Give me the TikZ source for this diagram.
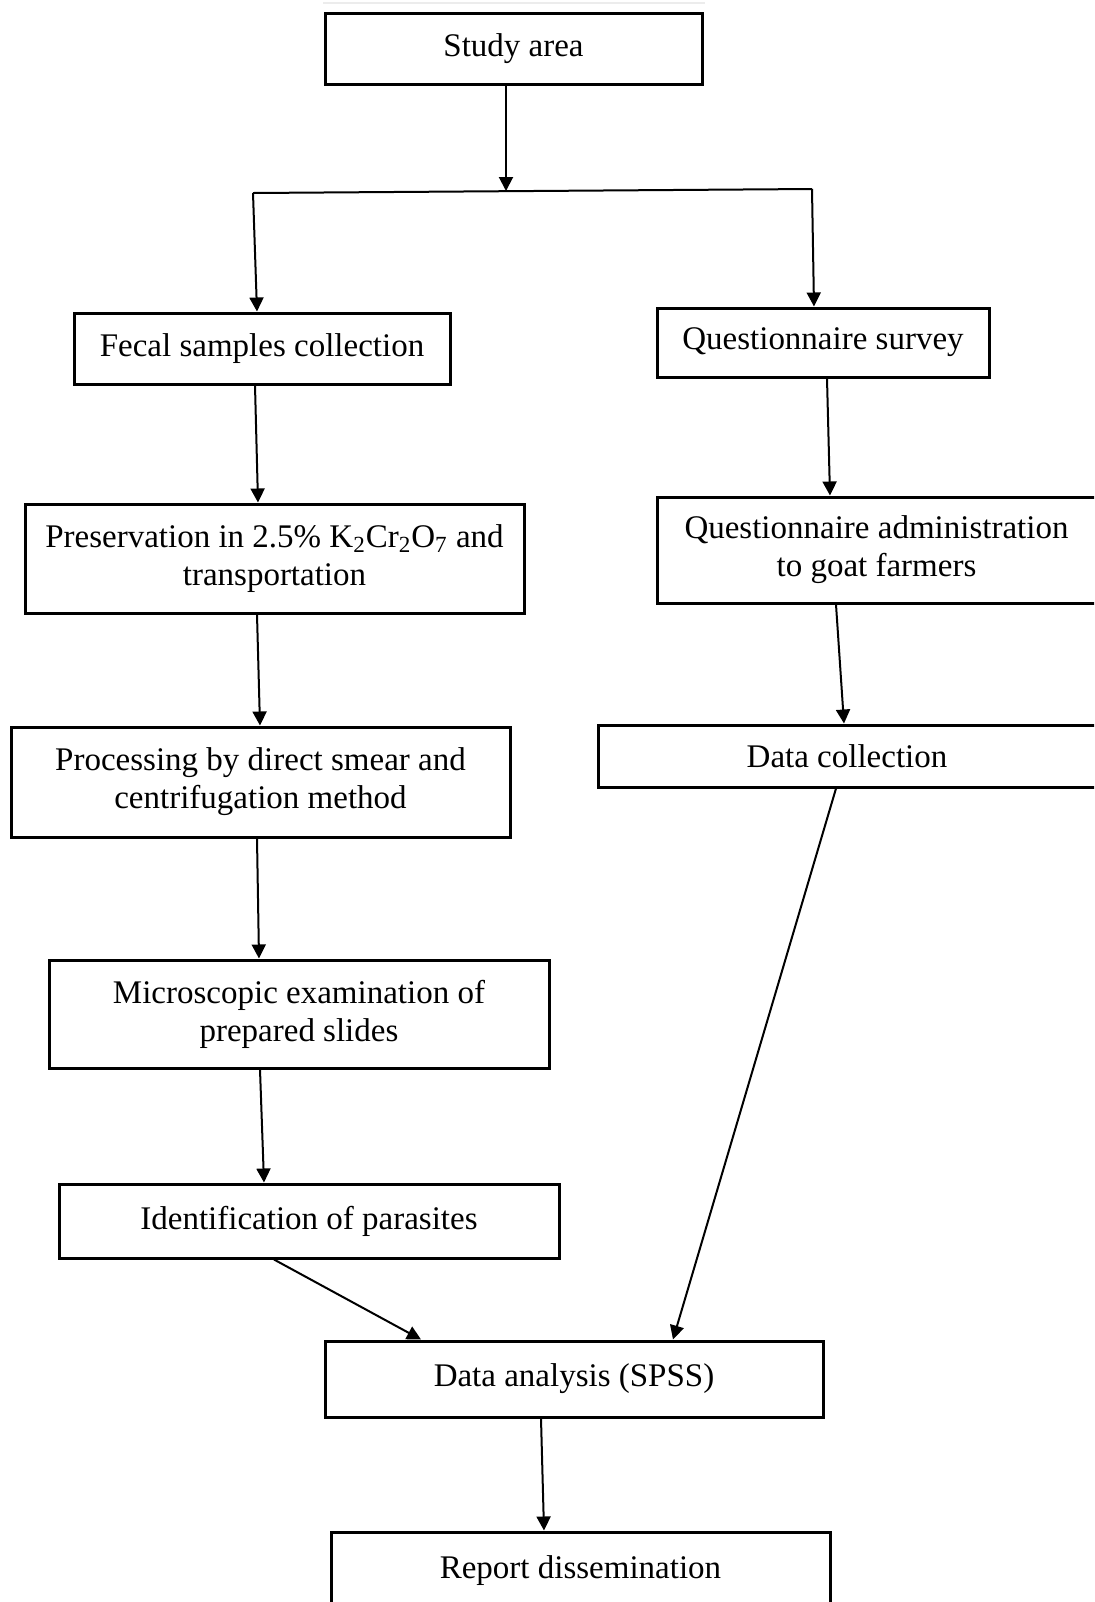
\documentclass[tikz,border=0pt]{standalone}
\usepackage{fontspec}
\setmainfont{Liberation Serif}
\usetikzlibrary{arrows.meta}
\tikzset{
  box/.style={draw=black, line width=1.5pt, fill=white, align=center, inner sep=0pt,
    font=\fontsize{16.5pt}{19pt}\selectfont},
  arr/.style={draw=black, line width=1pt, -{Triangle[length=7pt,width=7pt]}},
  ln/.style={draw=black, line width=1pt}
}
\begin{document}
\begin{tikzpicture}[x=0.5pt,y=-0.5pt]
\useasboundingbox (0,0) rectangle (1094,1602);
\clip (0,0) rectangle (1094,1602);
\fill[white] (0,0) rectangle (1094,1602);
\draw[gray!15, line width=1pt] (323,3) -- (705,3);

\node[box, minimum width=188.5pt, minimum height=35.5pt] (study) at (513.5,48.5) {Study area};
\node[box, minimum width=188pt, minimum height=35.5pt] (fecal) at (262,348.5) {Fecal samples collection};
\node[box, minimum width=166pt, minimum height=34.5pt] (qs) at (823,342.5) {Questionnaire survey};
\node[box, minimum width=249.5pt, minimum height=54.5pt] (pres) at (274.5,558.5) {Preservation in 2.5\% K\textsubscript{2}Cr\textsubscript{2}O\textsubscript{7} and\\transportation};
\node[box, minimum width=219.5pt, minimum height=53pt] (qa) at (876.5,550) {Questionnaire administration\\to goat farmers};
\node[box, minimum width=249.5pt, minimum height=55pt] (proc) at (260.5,782) {Processing by direct smear and\\centrifugation method};
\node[box, minimum width=249pt, minimum height=31pt] (dc) at (847,756) {Data collection};
\node[box, minimum width=250pt, minimum height=54pt] (micro) at (299,1014) {Microscopic examination of\\prepared slides};
\node[box, minimum width=250pt, minimum height=37pt] (ident) at (309,1221) {Identification of parasites};
\node[box, minimum width=249pt, minimum height=38pt] (da) at (574,1379) {Data analysis (SPSS)};
\node[box, minimum width=249.5pt, minimum height=39pt] (report) at (580.5,1571) {\raisebox{3pt}{Report dissemination}};

\coordinate (jl) at (253,193);
\coordinate (jr) at (812,189);
\coordinate (jm) at (506,191);

\draw[arr] ([xshift=-3.75pt]study.south) -- (jm);
\draw[ln] (jl) -- (jr);
\draw[arr] (jl) -- ([xshift=-2.5pt]fecal.north);
\draw[arr] (jr) -- ([xshift=-4.5pt]qs.north);

\draw[arr] ([xshift=-3.5pt]fecal.south) -- ([xshift=-8.25pt]pres.north);
\draw[arr] ([xshift=-8.75pt]pres.south) -- ([xshift=-0.25pt]proc.north);
\draw[arr] ([xshift=-1.75pt]proc.south) -- ([xshift=-20pt]micro.north);
\draw[arr] ([xshift=-19.5pt]micro.south) -- ([xshift=-22.5pt]ident.north);
\draw[arr] ([xshift=-17.5pt]ident.south) -- ([xshift=-76.5pt]da.north);

\draw[arr] ([xshift=2pt]qs.south) -- ([xshift=-23.25pt]qa.north);
\draw[arr] ([xshift=-20.25pt]qa.south) -- ([xshift=-1.5pt]dc.north);
\draw[arr] ([xshift=-5.5pt]dc.south) -- ([xshift=49.5pt]da.north);
\draw[arr] ([xshift=-16.5pt]da.south) -- ([xshift=-18.25pt]report.north);
\end{tikzpicture}
\end{document}
